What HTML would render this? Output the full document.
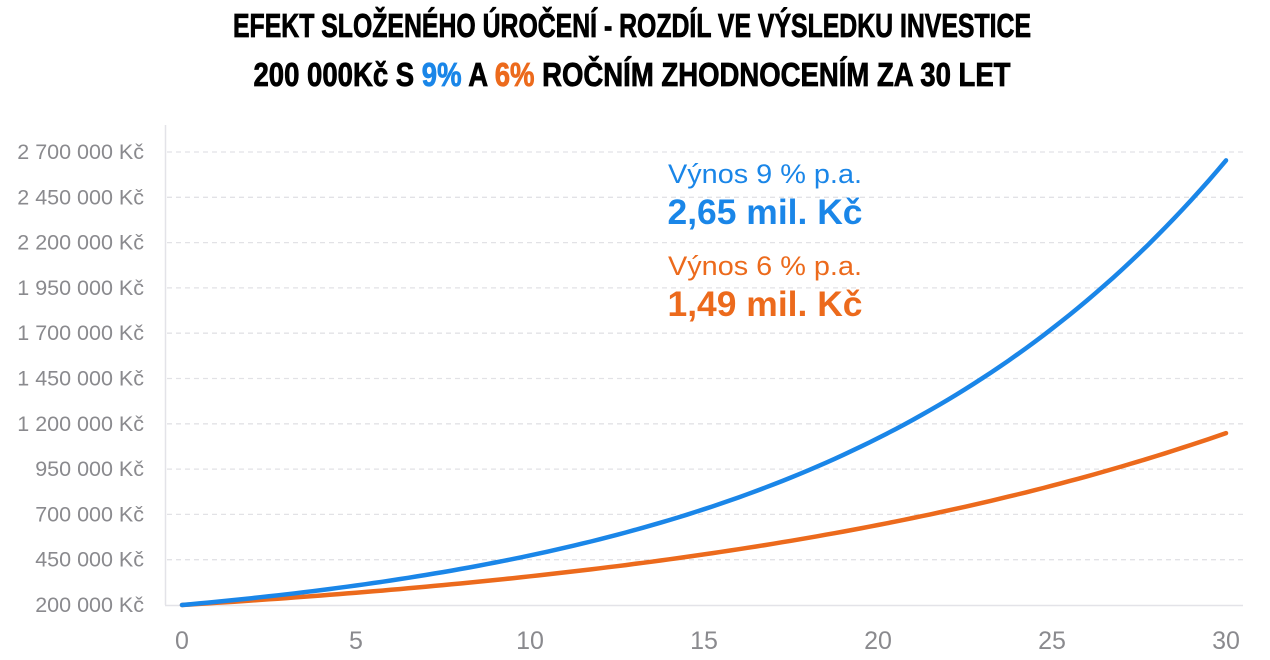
<!DOCTYPE html>
<html><head><meta charset="utf-8"><style>
body{margin:0;background:#fff;}
svg{display:block;}
</style></head><body>
<svg id="s" width="1270" height="660" xmlns="http://www.w3.org/2000/svg" font-family="Liberation Sans, sans-serif">
<text x="632" y="37" text-anchor="middle" font-family="Liberation Sans Narrow, Liberation Sans, sans-serif" font-weight="bold" font-size="33" textLength="798" lengthAdjust="spacingAndGlyphs" fill="#000" stroke="#000" stroke-width="0.8">EFEKT SLOŽENÉHO ÚROČENÍ - ROZDÍL VE VÝSLEDKU INVESTICE</text>
<text x="632" y="86" text-anchor="middle" font-family="Liberation Sans Narrow, Liberation Sans, sans-serif" font-weight="bold" font-size="33" textLength="757" lengthAdjust="spacingAndGlyphs" fill="#000" stroke="#000" stroke-width="0.8">200 000Kč S <tspan fill="#1a86e8" stroke="#1a86e8">9%</tspan> A <tspan fill="#ec6a1c" stroke="#ec6a1c">6%</tspan> ROČNÍM ZHODNOCENÍM ZA 30 LET</text>
<g id="grid"></g>
<line x1="165.5" y1="125" x2="165.5" y2="605" stroke="#e3e3e8" stroke-width="1.5"/>
<line x1="165" y1="605.5" x2="1243" y2="605.5" stroke="#e3e3e8" stroke-width="1.5"/>
<g id="lines"></g>
<text x="765" y="183" text-anchor="middle" font-size="27" textLength="194" lengthAdjust="spacingAndGlyphs" fill="#1a86e8">Výnos 9 % p.a.</text>
<text x="765" y="224" text-anchor="middle" font-size="35" font-weight="bold" textLength="195" lengthAdjust="spacingAndGlyphs" fill="#1a86e8">2,65 mil. Kč</text>
<text x="765" y="275" text-anchor="middle" font-size="27" textLength="194" lengthAdjust="spacingAndGlyphs" fill="#ec6a1c">Výnos 6 % p.a.</text>
<text x="765" y="316" text-anchor="middle" font-size="35" font-weight="bold" textLength="195" lengthAdjust="spacingAndGlyphs" fill="#ec6a1c">1,49 mil. Kč</text>
</svg>
<script>
var ns="http://www.w3.org/2000/svg",g=document.getElementById('grid'),l=document.getElementById('lines');
function Y(v){return 605-(v-200000)/250000*45.3;}
function X(t){return 182+t*34.8;}
function fmt(v){return v.toString().replace(/\B(?=(\d{3})+(?!\d))/g,' ')+' Kč';}
for(var i=0;i<=10;i++){var v=200000+i*250000,y=Y(v);
 if(i>0){var ln=document.createElementNS(ns,'line');ln.setAttribute('x1',167);ln.setAttribute('x2',1243);ln.setAttribute('y1',y);ln.setAttribute('y2',y);ln.setAttribute('stroke','#e2e2e6');ln.setAttribute('stroke-dasharray','5,4');ln.setAttribute('stroke-width','1.3');g.appendChild(ln);}
 var t=document.createElementNS(ns,'text');t.setAttribute('x',144);t.setAttribute('y',y+7);t.setAttribute('text-anchor','end');t.setAttribute('font-size','21.5');t.setAttribute('fill','#8a8a8e');t.textContent=fmt(v);g.appendChild(t);}
for(var k=0;k<=30;k+=5){var t=document.createElementNS(ns,'text');t.setAttribute('x',X(k));t.setAttribute('y',649);t.setAttribute('text-anchor','middle');t.setAttribute('font-size','25');t.setAttribute('fill','#8a8a8e');t.textContent=k;g.appendChild(t);}
[[1.06,'#ec6a1c'],[1.09,'#1a86e8']].forEach(function(a){var p=[];for(var t=0;t<=30;t+=0.25)p.push(X(t).toFixed(1)+','+Y(200000*Math.pow(a[0],t)).toFixed(1));
 var pl=document.createElementNS(ns,'polyline');pl.setAttribute('points',p.join(' '));pl.setAttribute('fill','none');pl.setAttribute('stroke',a[1]);pl.setAttribute('stroke-width','4.5');pl.setAttribute('stroke-linecap','round');l.appendChild(pl);});
</script>
</body></html>
